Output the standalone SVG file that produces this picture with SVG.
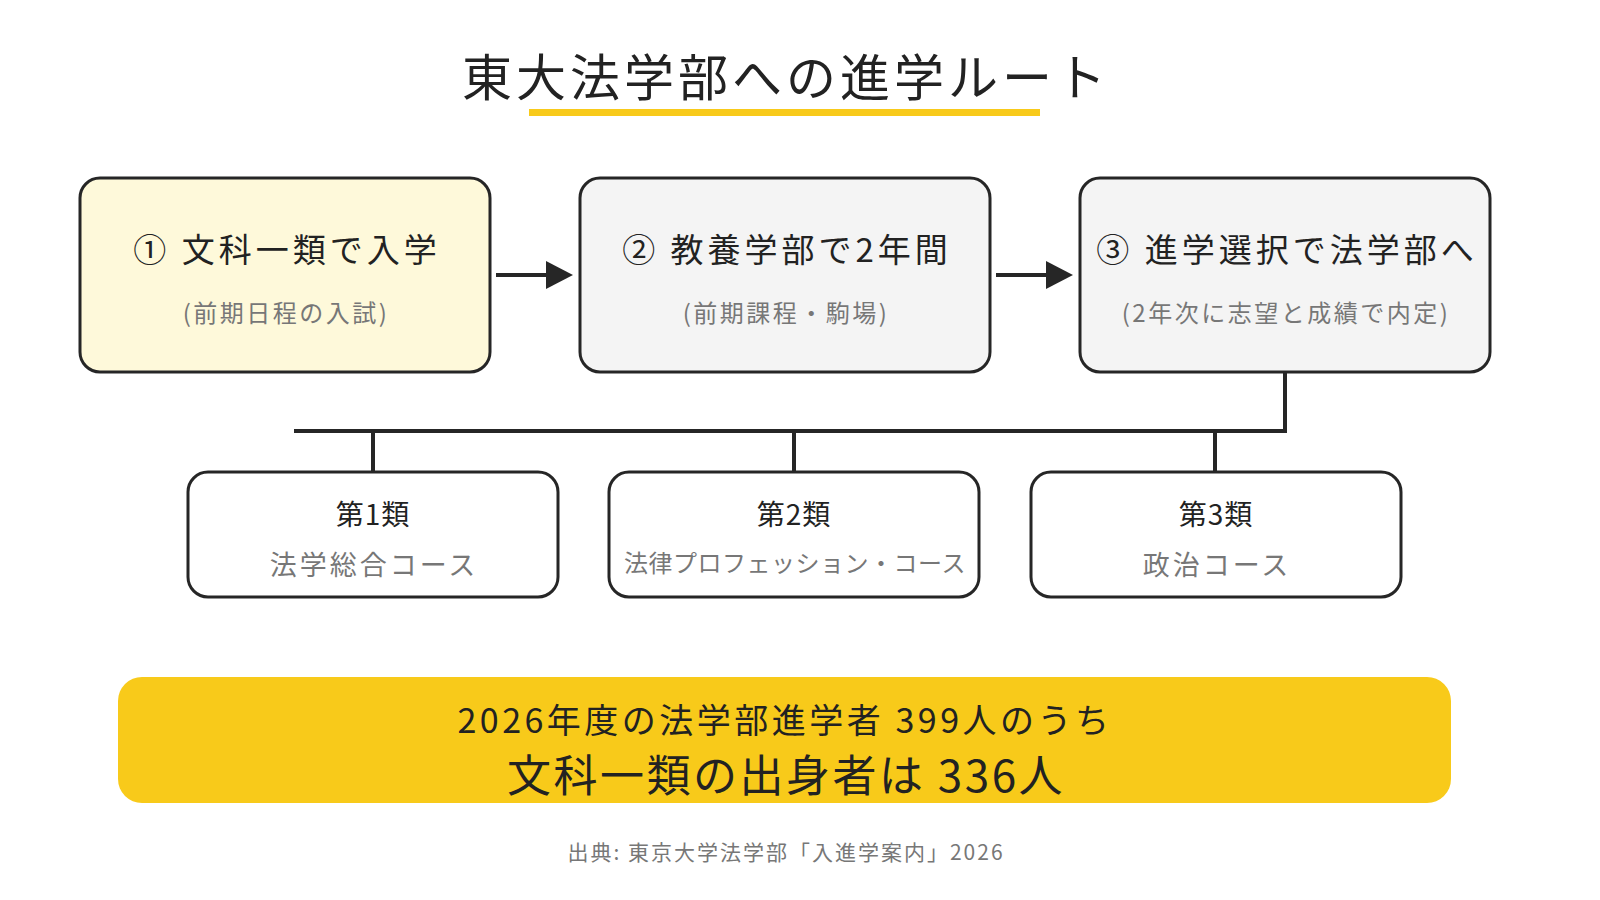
<svg xmlns="http://www.w3.org/2000/svg" width="1600" height="900" viewBox="0 0 1600 900">
<style>
text{font-family:"Noto Sans CJK JP","Noto Sans",sans-serif;text-anchor:middle;}
.box{stroke:#262626;stroke-width:3;}
.t{font-size:33px;fill:#222;letter-spacing:4px;}
.s{font-size:24px;fill:#777;letter-spacing:2.5px;}
.bt{font-size:28px;fill:#222;letter-spacing:1px;}
.bs{font-size:27px;fill:#777;letter-spacing:3px;}
.ln{stroke:#262626;stroke-width:4;fill:none;}
</style>
<rect width="1600" height="900" fill="#fff"/>
<g id="title">
<rect x="529" y="109" width="511" height="7" fill="#F8CA1A"/>
<text x="786" y="96" style="font-size:50px;fill:#222;letter-spacing:4px">東大法学部への進学ルート</text>
</g>
<g id="connectors">
<path d="M496,275H548" class="ln"/><path d="M546,261L573,275L546,289z" fill="#262626"/>
<path d="M996,275H1048" class="ln"/><path d="M1046,261L1073,275L1046,289z" fill="#262626"/>
<path d="M1285,372V431H294" class="ln"/>
<path d="M373,431V472M794,431V472M1215,431V472" class="ln"/>
</g>
<g id="n1"><rect class="box" x="80" y="178" width="410" height="194" rx="20" fill="#FEF9DA"/>
<text class="t" x="287" y="262">① 文科一類で入学</text><text class="s" x="286" y="322">(前期日程の入試)</text></g>
<g id="n2"><rect class="box" x="580" y="178" width="410" height="194" rx="20" fill="#F4F4F4"/>
<text class="t" x="787" y="262">② 教養学部で2年間</text><text class="s" x="786" y="322">(前期課程・駒場)</text></g>
<g id="n3"><rect class="box" x="1080" y="178" width="410" height="194" rx="20" fill="#F4F4F4"/>
<text class="t" x="1287" y="262">③ 進学選択で法学部へ</text><text class="s" x="1286" y="322">(2年次に志望と成績で内定)</text></g>
<g id="c1"><rect class="box" x="188" y="472" width="370" height="125" rx="20" fill="#fff"/>
<text class="bt" x="373" y="525">第1類</text><text class="bs" x="374" y="575">法学総合コース</text></g>
<g id="c2"><rect class="box" x="609" y="472" width="370" height="125" rx="20" fill="#fff"/>
<text class="bt" x="794" y="525">第2類</text><text class="s" x="795" y="572" style="letter-spacing:0.5px">法律プロフェッション・コース</text></g>
<g id="c3"><rect class="box" x="1031" y="472" width="370" height="125" rx="20" fill="#fff"/>
<text class="bt" x="1216" y="525">第3類</text><text class="bs" x="1217" y="575">政治コース</text></g>
<g id="banner"><rect x="118" y="677" width="1333" height="126" rx="24" fill="#F8CA1A"/>
<text x="785" y="733" style="font-size:34px;fill:#222;letter-spacing:3.5px">2026年度の法学部進学者 399人のうち</text>
<text x="786" y="792" style="font-size:44px;fill:#222;letter-spacing:2.5px">文科一類の出身者は 336人</text></g>
<text x="786" y="860" style="font-size:21px;fill:#777;letter-spacing:2px">出典: 東京大学法学部「入進学案内」2026</text>
</svg>
